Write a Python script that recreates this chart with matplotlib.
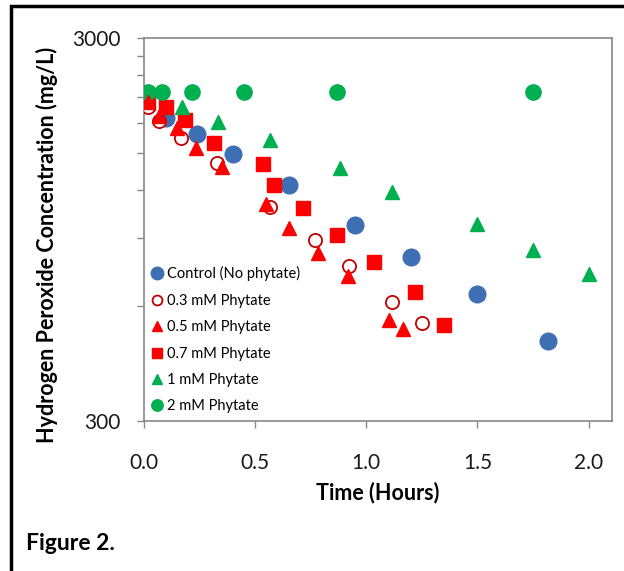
import matplotlib
matplotlib.use("Agg")
import matplotlib.pyplot as plt
from matplotlib.patches import Rectangle
from matplotlib.ticker import FixedLocator, NullFormatter

plt.rcParams["font.family"] = ["Lato", "DejaVu Sans"]

# time (hours) and H2O2 concentration (mg/L)
control_t = [0.10, 0.237, 0.40, 0.65, 0.95, 1.20, 1.50, 1.817]
control_c = [1857, 1681, 1490, 1239, 974, 802, 642, 485]

p03_t = [0.017, 0.067, 0.167, 0.33, 0.567, 0.77, 0.92, 1.117, 1.25]
p03_c = [1981, 1821, 1647, 1412, 1087, 890, 762, 614, 541]

p05_t = [0.017, 0.067, 0.15, 0.233, 0.35, 0.55, 0.65, 0.783, 0.917, 1.10, 1.167]
p05_c = [2038, 1882, 1742, 1552, 1383, 1103, 955, 826, 718, 550, 521]

p07_t = [0.017, 0.10, 0.183, 0.317, 0.533, 0.583, 0.717, 0.867, 1.033, 1.217, 1.35]
p07_c = [2029, 1984, 1832, 1592, 1403, 1239, 1081, 917, 781, 650, 533]

p1_t = [0.017, 0.17, 0.333, 0.567, 0.883, 1.117, 1.50, 1.75, 2.0]
p1_c = [2045, 1977, 1812, 1624, 1375, 1186, 978, 838, 728]

p2_t = [0.017, 0.083, 0.217, 0.45, 0.867, 1.75]
p2_c = [2168, 2168, 2168, 2168, 2168, 2168]

x_ticks = [0.0, 0.5, 1.0, 1.5, 2.0]
y_major = [300, 3000]
y_minor = [600, 900, 1200, 1500, 1800, 2100, 2400, 2700]

BLUE = "#3F6FB3"
RED = "#FF0000"
DARKRED = "#C00000"
GREEN = "#00B050"
GRAY = "#878787"

fig = plt.figure(figsize=(6.24, 5.71), dpi=100)
ax = fig.add_axes([144 / 624, 1 - 421 / 571, 468 / 624, 383 / 571])

ax.plot(control_t, control_c, "o", ls="none", ms=12, color=BLUE, mec=BLUE,
        label="Control (No phytate)", zorder=3)
ax.plot(p03_t, p03_c, "o", ls="none", ms=9.5, mfc="white", mec=DARKRED, mew=1.3,
        label="0.3 mM Phytate", zorder=4)
ax.plot(p05_t, p05_c, "^", ls="none", ms=10, color=RED,
        label="0.5 mM Phytate", zorder=4)
ax.plot(p07_t, p07_c, "s", ls="none", ms=10, color=RED,
        label="0.7 mM Phytate", zorder=3)
ax.plot(p1_t, p1_c, "^", ls="none", ms=10, color=GREEN,
        label="1 mM Phytate", zorder=3)
ax.plot(p2_t, p2_c, "o", ls="none", ms=11, color=GREEN,
        label="2 mM Phytate", zorder=3)

ax.set_yscale("log")
ax.set_ylim(300, 3000)
ax.set_xlim(0, 2.105)
ax.yaxis.set_major_locator(FixedLocator(y_major))
ax.yaxis.set_minor_locator(FixedLocator(y_minor))
ax.set_yticklabels([str(v) for v in y_major])
ax.yaxis.set_minor_formatter(NullFormatter())
ax.set_xticks(x_ticks)
ax.set_xticklabels([f"{v:.1f}" for v in x_ticks])

for s in ax.spines.values():
    s.set_color(GRAY)
    s.set_linewidth(1.2)
ax.tick_params(axis="both", which="both", direction="out", color=GRAY,
               width=1, length=5, labelsize=15, labelcolor="#1a1a1a")
ax.tick_params(axis="y", which="major", pad=12)
ax.tick_params(axis="x", which="major", pad=18)

ax.set_xlabel("Time (Hours)", fontsize=15.5, fontweight="bold", labelpad=6)
fig.text(47 / 624, 1 - 245 / 571, "Hydrogen Peroxide Concentration (mg/L)",
         rotation=90, ha="center", va="center", fontsize=15.5, fontweight="bold")

leg = ax.legend(loc="lower left", bbox_to_anchor=(0.0, 0.0), frameon=False,
                fontsize=10.5, markerscale=0.75, handlelength=0.8,
                handletextpad=0.25, labelspacing=0.85, borderaxespad=0.12)

fig.text(26 / 624, 1 - 544 / 571, "Figure 2.", fontsize=16.5, fontweight="bold",
         ha="left", va="center")

fig.add_artist(Rectangle((11 / 624, -0.1), 1.2, 1 - 6 / 571 + 0.1,
                         transform=fig.transFigure, fill=False, ec="black",
                         lw=2.5, clip_on=False))

fig.savefig("out.png", dpi=100)
